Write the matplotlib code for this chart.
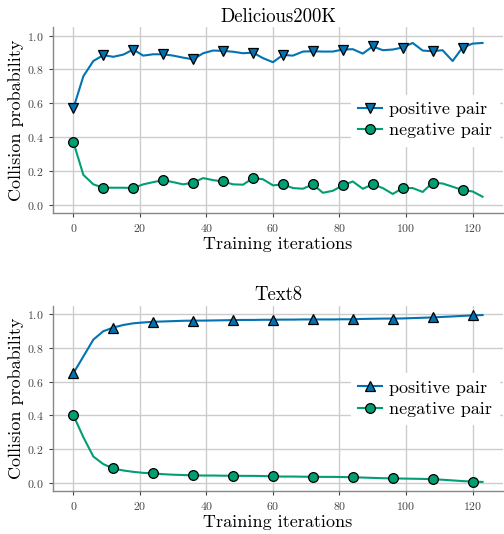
import matplotlib
matplotlib.use('Agg')
import matplotlib.pyplot as plt

plt.rcParams['font.family'] = 'serif'
plt.rcParams['font.serif'] = ['cmr10', 'DejaVu Serif']
plt.rcParams['mathtext.fontset'] = 'cm'
plt.rcParams['axes.formatter.use_mathtext'] = True

iters = [0, 3, 6, 9, 12, 15, 18, 21, 24, 27, 30, 33, 36, 39, 42, 45, 48, 51, 54, 57, 60,
         63, 66, 69, 72, 75, 78, 81, 84, 87, 90, 93, 96, 99, 102, 105, 108, 111, 114, 117, 120, 123]

# Delicious200K
del_pos = [0.57, 0.76, 0.85, 0.885, 0.875, 0.888, 0.918, 0.882, 0.89, 0.89, 0.882, 0.87, 0.86, 0.896,
           0.912, 0.91, 0.905, 0.896, 0.90, 0.867, 0.843, 0.886, 0.882, 0.906, 0.908, 0.906, 0.906,
           0.918, 0.92, 0.894, 0.937, 0.914, 0.918, 0.93, 0.957, 0.912, 0.908, 0.914, 0.85, 0.93,
           0.953, 0.957]
del_neg = [0.37, 0.176, 0.12, 0.10, 0.10, 0.10, 0.098, 0.12, 0.133, 0.145, 0.133, 0.12, 0.13, 0.157,
           0.145, 0.137, 0.12, 0.118, 0.157, 0.15, 0.114, 0.12, 0.098, 0.094, 0.12, 0.07, 0.082,
           0.114, 0.137, 0.094, 0.12, 0.098, 0.063, 0.098, 0.098, 0.075, 0.13, 0.125, 0.106, 0.086,
           0.078, 0.047]

# Text8
t8_pos = [0.65, 0.75, 0.85, 0.90, 0.922, 0.937, 0.947, 0.952, 0.956, 0.958, 0.96, 0.962, 0.963, 0.963,
          0.964, 0.965, 0.966, 0.967, 0.967, 0.968, 0.968, 0.969, 0.969, 0.97, 0.97, 0.97, 0.97,
          0.971, 0.971, 0.973, 0.974, 0.975, 0.975, 0.976, 0.978, 0.98, 0.982, 0.985, 0.988, 0.991,
          0.994, 0.996]
t8_neg = [0.40, 0.27, 0.155, 0.11, 0.084, 0.072, 0.064, 0.058, 0.055, 0.05, 0.047, 0.045, 0.043, 0.042,
          0.042, 0.041, 0.041, 0.04, 0.04, 0.039, 0.037, 0.036, 0.036, 0.035, 0.035, 0.034, 0.034,
          0.033, 0.032, 0.03, 0.028, 0.026, 0.025, 0.024, 0.023, 0.022, 0.02, 0.017, 0.013, 0.009,
          0.006, 0.004]

blue = '#0173B2'
green = '#029E73'

fig = plt.figure(figsize=(5.04, 5.34), dpi=100)
ax1 = fig.add_axes([0.105, 0.601, 0.893, 0.348])
ax2 = fig.add_axes([0.105, 0.0805, 0.893, 0.3465])

panels = [(ax1, 'Delicious200K', del_pos, del_neg, 'v', 3),
          (ax2, 'Text8', t8_pos, t8_neg, '^', 4)]

for ax, title, pos, neg, mk, every in panels:
    ax.plot(iters, pos, color=blue, lw=1.5, marker=mk, markersize=7.5, markevery=every,
            markeredgecolor='black', markeredgewidth=0.9, label='positive pair')
    ax.plot(iters, neg, color=green, lw=1.5, marker='o', markersize=7, markevery=every,
            markeredgecolor='black', markeredgewidth=0.9, label='negative pair')
    ax.set_ylim(-0.05, 1.05)
    ax.set_xticks([0, 20, 40, 60, 80, 100, 120])
    ax.set_yticks([0.0, 0.2, 0.4, 0.6, 0.8, 1.0])
    ax.grid(True, color='#cccccc', lw=1.0)
    ax.set_axisbelow(True)
    for s in ['top', 'right']:
        ax.spines[s].set_visible(False)
    for s in ['left', 'bottom']:
        ax.spines[s].set_color('#888888')
        ax.spines[s].set_linewidth(1.0)
    ax.tick_params(labelsize=8.5, colors='#444444', length=3, width=0.8)
    ax.set_title(title, fontsize=13.5, pad=4)
    ax.set_xlabel('Training iterations', fontsize=13, labelpad=2)
    ax.set_ylabel('Collision probability', fontsize=13, labelpad=2)
    leg = ax.legend(loc='center right', fontsize=13, frameon=True, framealpha=1.0,
                    edgecolor='white', fancybox=False, handlelength=1.3,
                    handletextpad=0.4, labelspacing=0.3, borderaxespad=0.2)

fig.savefig('out.png', dpi=100)
